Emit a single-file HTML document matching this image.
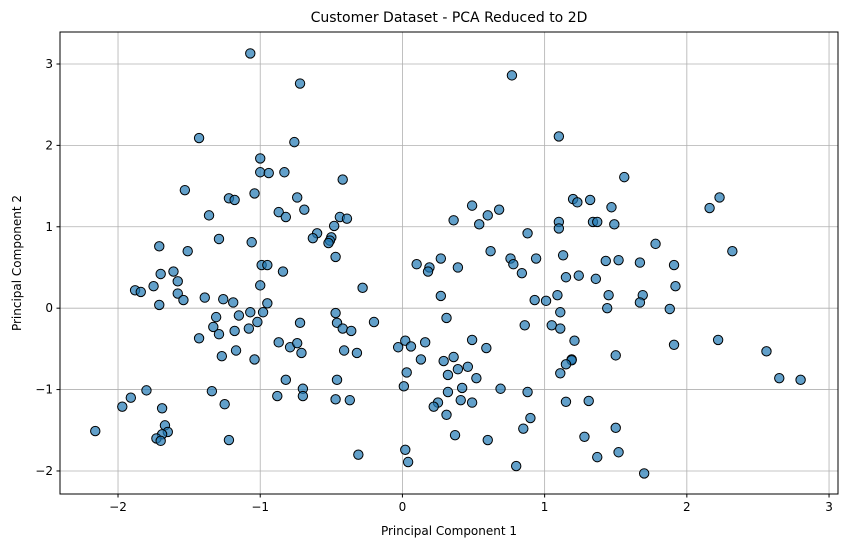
<!DOCTYPE html>
<html><head><meta charset="utf-8"><style>
body{margin:0;background:#fff;font-family:"Liberation Sans","DejaVu Sans",sans-serif}
svg text{font-family:"DejaVu Sans","Liberation Sans",sans-serif}
</style></head><body>
<svg id="chart" width="846" height="547" xmlns="http://www.w3.org/2000/svg">
<rect width="846" height="547" fill="#fff"/>
<text x="449" y="22" text-anchor="middle" font-size="14">Customer Dataset - PCA Reduced to 2D</text>
<text x="449" y="535" text-anchor="middle" font-size="12">Principal Component 1</text>
<text transform="translate(21,263) rotate(-90)" text-anchor="middle" font-size="12">Principal Component 2</text>
<g id="grid"></g>
<g id="ticks"></g>
<g id="points"></g>
<rect x="60" y="32" width="778" height="462" fill="none" stroke="#000" stroke-width="1"/>
</svg>
<script>
const xTicks=[-2,-1,0,1,2,3];
const yTicks=[-2,-1,0,1,2,3];
const pc1=[-1.07,-0.72,-1.43,-0.76,-1.00,-1.00,-0.94,-0.83,-0.42,-1.53,-1.04,-0.74,-1.22,-1.18,-0.69,-0.87,-1.36,-0.82,-0.44,-0.39,-0.48,-0.50,-0.51,-0.52,-0.60,-0.63,-0.47,-1.29,-1.06,-1.71,-1.51,-1.70,-1.61,-1.58,-1.75,-1.88,-1.84,-1.58,-1.54,-1.71,-1.39,-1.26,-1.19,-1.00,-0.95,-0.99,-0.95,-0.84,-0.28,
-1.31,-1.33,-1.29,-1.15,-1.07,-0.98,-1.02,-1.08,-1.18,-1.43,-1.27,-1.17,-1.04,-0.87,-0.79,-0.74,-0.71,-0.72,-0.47,-0.46,-0.42,-0.36,-0.20,-0.41,-0.32,-0.03,0.02,0.03,0.01,-0.82,-0.70,-0.70,-0.88,-0.46,-0.47,-0.37,-1.80,-1.91,-1.97,-1.69,-1.34,-1.25,-1.67,-1.65,-1.69,-1.73,-1.70,-2.16,-1.22,-0.31,0.02,0.04,
0.77,1.10,1.56,1.20,1.23,1.32,1.47,2.16,2.23,0.49,0.68,0.60,0.36,0.54,1.10,1.10,1.34,1.37,1.49,0.88,2.32,1.78,0.62,0.76,0.78,0.94,1.13,1.43,1.52,1.67,1.91,0.27,0.10,0.19,0.39,
0.18,0.84,1.15,1.24,1.36,1.92,0.27,0.93,1.01,1.09,1.45,1.69,1.67,1.44,1.88,1.11,0.31,0.86,1.05,1.11,1.21,1.91,2.22,2.56,2.65,2.80,1.50,1.19,1.19,1.15,1.11,0.06,0.16,0.13,0.29,0.36,0.39,0.46,0.32,0.52,0.49,0.59,0.42,0.32,0.69,0.88,0.41,0.49,0.25,0.22,0.31,0.90,0.85,0.37,0.60,0.80,1.15,1.31,1.50,1.28,1.52,1.37,1.70];
const pc2=[3.13,2.76,2.09,2.04,1.84,1.67,1.66,1.67,1.58,1.45,1.41,1.36,1.35,1.33,1.21,1.18,1.14,1.12,1.12,1.10,1.01,0.87,0.83,0.80,0.92,0.86,0.63,0.85,0.81,0.76,0.70,0.42,0.45,0.33,0.27,0.22,0.20,0.18,0.10,0.04,0.13,0.11,0.07,0.28,0.06,0.53,0.53,0.45,0.25,
-0.11,-0.23,-0.32,-0.09,-0.05,-0.05,-0.17,-0.25,-0.28,-0.37,-0.59,-0.52,-0.63,-0.42,-0.48,-0.43,-0.55,-0.18,-0.06,-0.18,-0.25,-0.28,-0.17,-0.52,-0.55,-0.48,-0.40,-0.79,-0.96,-0.88,-0.99,-1.08,-1.08,-0.88,-1.12,-1.13,-1.01,-1.10,-1.21,-1.23,-1.02,-1.18,-1.44,-1.52,-1.55,-1.60,-1.63,-1.51,-1.62,-1.80,-1.74,-1.89,
2.86,2.11,1.61,1.34,1.30,1.33,1.24,1.23,1.36,1.26,1.21,1.14,1.08,1.03,1.06,0.98,1.06,1.06,1.03,0.92,0.70,0.79,0.70,0.61,0.54,0.61,0.65,0.58,0.59,0.56,0.53,0.61,0.54,0.50,0.50,
0.45,0.43,0.38,0.40,0.36,0.27,0.15,0.10,0.09,0.16,0.16,0.16,0.07,0.00,-0.01,-0.05,-0.12,-0.21,-0.21,-0.25,-0.40,-0.45,-0.39,-0.53,-0.86,-0.88,-0.58,-0.63,-0.64,-0.69,-0.80,-0.47,-0.42,-0.63,-0.65,-0.60,-0.75,-0.72,-0.82,-0.86,-0.39,-0.49,-0.98,-1.03,-0.99,-1.03,-1.13,-1.16,-1.16,-1.21,-1.31,-1.35,-1.48,-1.56,-1.62,-1.94,-1.15,-1.14,-1.47,-1.58,-1.77,-1.83,-2.03];
const L=60,R=838,T=32,B=494,X0=-2.408,X1=3.063,Y0=-2.283,Y1=3.393;
const sx=v=>L+(v-X0)/(X1-X0)*(R-L);
const sy=v=>B-(v-Y0)/(Y1-Y0)*(B-T);
const NS='http://www.w3.org/2000/svg';
const mk=(p,t,a)=>{const e=document.createElementNS(NS,t);for(const k in a)e.setAttribute(k,a[k]);p.appendChild(e);return e;};
const grid=document.getElementById('grid'),ticks=document.getElementById('ticks'),pts=document.getElementById('points');
xTicks.forEach(v=>{const x=sx(v);
 const g=mk(grid,'line',{x1:x,x2:x,y1:T,y2:B,stroke:'#b0b0b0','stroke-width':0.8});
 
 
 mk(ticks,'line',{x1:x,x2:x,y1:B,y2:B+3.5,stroke:'#000'});
 const t=mk(ticks,'text',{x:x,y:B+17,'text-anchor':'middle','font-size':12});t.textContent=v<0?'\u2212'+(-v):String(v);
 
 
});
yTicks.forEach(v=>{const y=sy(v);
 const g=mk(grid,'line',{x1:L,x2:R,y1:y,y2:y,stroke:'#b0b0b0','stroke-width':0.8});
 
 
 mk(ticks,'line',{x1:L-3.5,x2:L,y1:y,y2:y,stroke:'#000'});
 const t=mk(ticks,'text',{x:L-7,y:y+4,'text-anchor':'end','font-size':12});t.textContent=v<0?'\u2212'+(-v):String(v);
 
 
});
pc1.forEach((v,i)=>{
 const c=mk(pts,'circle',{cx:sx(v),cy:sy(pc2[i]),r:4.7,fill:'#1f77b4','fill-opacity':0.7,stroke:'#000','stroke-width':1});
 
 
});
</script>
</body></html>
